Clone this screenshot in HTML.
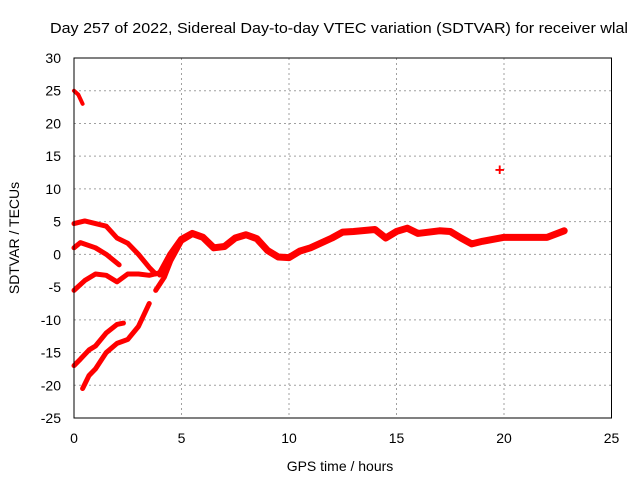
<!DOCTYPE html>
<html><head><meta charset="utf-8"><style>
body{margin:0;background:#fff;}
svg{display:block;font-family:"Liberation Sans",sans-serif;}
</style></head><body>
<svg id="chart" width="640" height="480">
<text x="50" y="33" font-size="15" textLength="578" lengthAdjust="spacingAndGlyphs" fill="#000">Day 257 of 2022, Sidereal Day-to-day VTEC variation (SDTVAR) for receiver wlal</text>
<text x="340" y="471" font-size="14" text-anchor="middle">GPS time / hours</text>
<text transform="translate(19,238) rotate(-90)" font-size="14" text-anchor="middle">SDTVAR / TECUs</text>
<g id="grid"></g><g id="ticks"></g><g id="series"></g>
<rect x="74" y="58" width="537.5" height="360" fill="none" stroke="#000"/>
</svg>
<script>
const xTicks=[0,5,10,15,20,25];
const yTicks=[-25,-20,-15,-10,-5,0,5,10,15,20,25,30];
const seriesTop=[[0,25],[0.2,24.4],[0.4,23]];
const seriesA=[[0,4.7],[0.5,5.1],[1,4.7],[1.5,4.3],[2,2.5],[2.5,1.7],[3,0],[3.5,-2],[3.8,-3]];
const seriesB=[[0,1],[0.3,1.8],[1,1],[1.5,0],[2.1,-1.6]];
const seriesC=[[0,-5.5],[0.5,-4],[1,-3],[1.5,-3.2],[2,-4.2],[2.5,-3],[3,-3],[3.5,-3.2],[4,-2.8]];
const seriesMain=[[4,-3],[4.5,0],[5,2.3],[5.5,3.2],[6,2.6],[6.5,1],[7,1.2],[7.5,2.5],[8,3],[8.5,2.4],[9,0.6],[9.5,-0.4],[10,-0.5],[10.5,0.5],[11,1],[12,2.5],[12.5,3.4],[13,3.5],[14,3.8],[14.5,2.5],[15,3.5],[15.5,4],[16,3.2],[17,3.6],[17.5,3.5],[18,2.5],[18.5,1.6],[19,2],[20,2.6],[21,2.6],[22,2.6],[22.8,3.6]];
const seriesD=[[3.8,-5.5],[4.2,-3.5],[4.5,-1],[5,2],[5.5,3]];
const seriesE=[[0,-17],[0.3,-16],[0.7,-14.6],[1,-14],[1.5,-12],[2,-10.7],[2.3,-10.5]];
const seriesF=[[0.4,-20.5],[0.7,-18.5],[1,-17.5],[1.5,-15],[2,-13.6],[2.5,-13],[3,-11],[3.5,-7.5]];
const outlier=[[19.8,13]];
const NS='http://www.w3.org/2000/svg';
const X=t=>74+t*21.5, Y=v=>418-(v+25)*360/55;
const grid=document.getElementById('grid'),ticks=document.getElementById('ticks'),ser=document.getElementById('series');
function mk(tag,p,parent){const e=document.createElementNS(NS,tag);for(const k in p)e.setAttribute(k,p[k]);parent.appendChild(e);return e;}
xTicks.forEach(t=>{
 if(t>0&&t<25){const g=mk('line',{x1:X(t),x2:X(t),y1:58,y2:418,stroke:'#a0a0a0','stroke-dasharray':'2,3'},grid);
 
 }
 const l=mk('text',{x:X(t),y:443,'font-size':14,'text-anchor':'middle'},ticks);l.textContent=t;
 
 
});
yTicks.forEach(v=>{
 if(v>-25){const g=mk('line',{x1:74,x2:611.5,y1:Y(v),y2:Y(v),stroke:'#a0a0a0','stroke-dasharray':'2,3'},grid);
 
 }
 const l=mk('text',{x:61,y:Y(v)+5,'font-size':14,'text-anchor':'end'},ticks);l.textContent=v;
 
 
});
[[seriesTop,4],[seriesA,5],[seriesB,5],[seriesC,5],[seriesMain,7],[seriesD,5],[seriesE,5],[seriesF,5]].forEach(([s,w])=>{
 const p=mk('polyline',{points:s.map(d=>X(d[0])+','+Y(d[1])).join(' '),fill:'none',stroke:'#ff0000','stroke-width':w,'stroke-linejoin':'round','stroke-linecap':'round'},ser);
 
 
});
outlier.forEach(d=>{
 const t=mk('text',{x:X(d[0]),y:Y(d[1])+6,'font-size':17,'font-weight':'bold','text-anchor':'middle',fill:'#ff0000'},ser);t.textContent='+';
 
 
});
</script>
</body></html>
